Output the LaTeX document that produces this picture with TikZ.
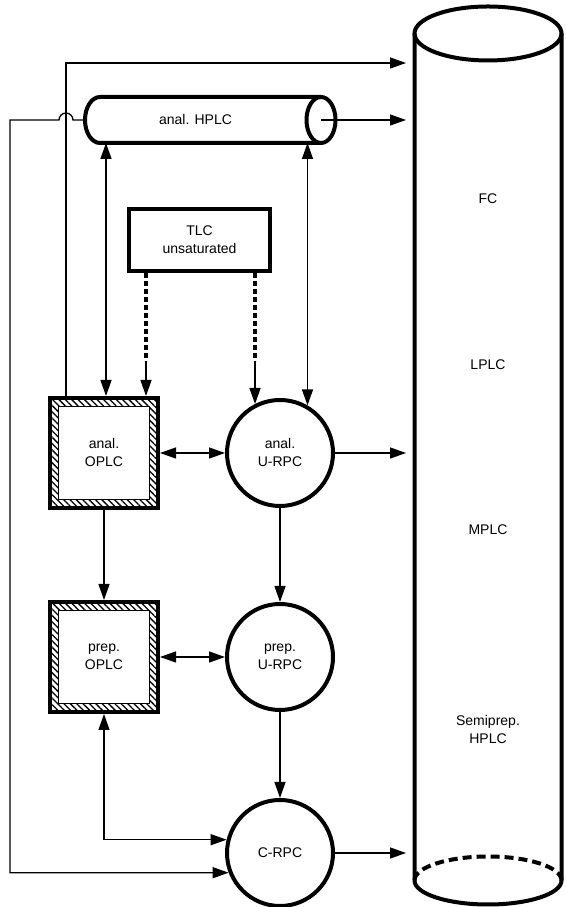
\documentclass[tikz,border=0pt]{standalone}
\usepackage{fontspec}
\setmainfont{Liberation Sans}
\usetikzlibrary{arrows.meta, patterns.meta}

\begin{document}
\begin{tikzpicture}[x=1pt, y=1pt, line width=1.3pt,
  txt/.style={font=\fontsize{14pt}{18pt}\selectfont, align=center},
  arr/.style={-{Triangle[length=16pt,width=11pt]}},
  dblarr/.style={{Triangle[length=16pt,width=11pt]}-{Triangle[length=16pt,width=11pt]}},
  thickline/.style={line width=4pt},
  oplc/.style={txt, draw, thickline, minimum width=108pt, minimum height=110pt, inner sep=0pt,
    path picture={
      \fill[pattern={Lines[angle=-45,distance=4.5pt,line width=1.3pt]}, even odd rule]
        (path picture bounding box.south west) rectangle (path picture bounding box.north east)
        ([shift={(8.5pt,8.5pt)}]path picture bounding box.south west) rectangle ([shift={(-8.5pt,-8.5pt)}]path picture bounding box.north east);
      \draw[line width=0.8pt] ([shift={(8.5pt,8.5pt)}]path picture bounding box.south west) rectangle ([shift={(-8.5pt,-8.5pt)}]path picture bounding box.north east);
    }},
  rpc/.style={txt, circle, draw, thickline, minimum size=106pt, inner sep=0pt},
  tlcbox/.style={txt, draw, thickline, minimum width=141pt, minimum height=62pt, inner sep=0pt},
  tlcdash/.style={line width=4.5pt, dash pattern=on 5pt off 3pt},
  tubebody/.style={txt, minimum width=221pt, minimum height=46pt, inner sep=0pt, outer sep=0pt},
  colbody/.style={minimum width=147pt, minimum height=847pt, inner sep=0pt, outer sep=0pt}
]
  \useasboundingbox (0,0) rectangle (565,907);

  % column
  \node[colbody] (col) at (488,450) {};
  \draw[thickline] (col.north west) -- (col.south west)
    arc[start angle=180, end angle=360, x radius=73.5, y radius=24] -- (col.north east);
  \draw[thickline] (col.north) ellipse[x radius=73.5, y radius=27];
  \draw[thickline, dash pattern=on 9pt off 5pt] (col.south east)
    arc[start angle=0, end angle=180, x radius=73.5, y radius=24];
  \node[txt] (fc) at (488,708) {FC};
  \node[txt] (lplc) at (488,542) {LPLC};
  \node[txt] (mplc) at (488,377) {MPLC};
  \node[txt] (semi) at (488,178) {Semiprep.\\HPLC};

  % anal. HPLC tube
  \node[tubebody] (hplc) at (195.5,787) {anal. HPLC};
  \coordinate (hplcend) at ([xshift=15pt]hplc.east);
  \draw[thickline] ([xshift=15pt]hplc.north east) -- ([xshift=15pt]hplc.north west)
    arc[start angle=90, end angle=270, x radius=15, y radius=23] -- ([xshift=15pt]hplc.south east);
  \draw[thickline, fill=white] (hplcend) ellipse[x radius=14.5, y radius=23];

  \node[tlcbox] (tlc) at (199.5,667) {TLC\\unsaturated};
  \node[oplc] (oplcA) at (104,454) {anal.\\OPLC};
  \node[rpc] (urpcA) at (280,454) {anal.\\U-RPC};
  \node[oplc] (oplcP) at (104,250) {prep.\\OPLC};
  \node[rpc] (urpcP) at (280,250) {prep.\\U-RPC};
  \node[rpc] (crpc) at (280,54) {C-RPC};

  \coordinate (oa1) at ([xshift=-38pt]oplcA.north);
  \coordinate (oa2) at ([xshift=2pt]oplcA.north);
  \coordinate (oa3) at ([xshift=42pt]oplcA.north);
  \coordinate (toplane) at (0,844);

  % connectors
  \draw[arr, shorten >=8.5pt] (oa1) |- (col.west |- toplane);
  \draw[arr, shorten >=8.5pt] (hplcend) -- (hplcend -| col.west);
  \draw[arr, shorten >=8.5pt] (urpcA) -- (urpcA -| col.west);
  \draw[arr, shorten >=8.5pt] (crpc) -- (crpc -| col.west);
  \draw[dblarr] (hplc.south -| oa2) -- (oa2);
  \draw[dblarr] (hplc.south -| urpcA.60) -- (urpcA.60);
  \draw[tlcdash] (tlc.south -| oa3) -- ++(0,-88) coordinate (d1);
  \draw[arr] (d1) -- (oa3);
  \draw[tlcdash] (tlc.south -| urpcA.117) -- ++(0,-88) coordinate (d2);
  \draw[arr] (d2) -- (urpcA.117);
  \draw[dblarr] (oplcA) -- (urpcA);
  \draw[dblarr] (oplcP) -- (urpcP);
  \draw[arr] (oplcA) -- (oplcP);
  \draw[arr] (urpcA) -- (urpcP);
  \draw[arr] (urpcP) -- (crpc);
  \draw[dblarr] (oplcP) |- (crpc.166);
  \draw[arr] (hplc.west) -- ++(-12,0) arc[start angle=0, end angle=180, radius=7]
    -- (10,787) |- (crpc.201);
\end{tikzpicture}
\end{document}
